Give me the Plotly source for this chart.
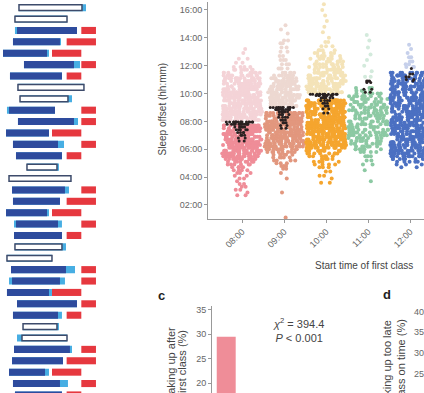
import numpy as np
import plotly.graph_objects as go

W, H = 424, 393
FONT = "Liberation Sans, Arial, sans-serif"

# ---------------- panel a (schematic sleep bars) ----------------
rows = list(range(1, 36))
day_type = (['we'] * 2 + ['wd'] * 5) * 5
sleep_on = [3.50, 2.95, 3.23, 2.68, 1.32, 4.18, 2.27, 3.36, 3.64, 2.14, 3.36, 1.73, 2.68, 3.09,
            4.59, 2.14, 2.55, 2.68, 1.73, 3.09, 2.82, 2.95, 1.86, 2.41, 2.55, 1.86, 3.23, 2.68,
            4.05, 3.91, 2.82, 2.55, 2.14, 2.68, 2.95]
sleep_off = [12.09, 10.05, 11.41, 9.09, 7.32, 11.00, 9.36, 12.36, 10.18, 8.41, 11.00, 7.59, 8.82, 9.36,
             8.68, 10.59, 9.77, 9.09, 7.32, 8.82, 9.36, 9.36, 8.00, 9.91, 9.09, 7.59, 11.41, 8.82,
             8.68, 10.05, 10.45, 9.50, 7.05, 9.09, 9.36]
light_start = [3.50, 2.95, 2.95, 2.68, 1.32, 4.18, 2.27, 3.36, 3.64, 1.86, 3.36, 1.73, 2.68, 3.09,
               4.59, 2.14, 2.55, 2.68, 1.73, 2.82, 2.82, 2.95, 1.86, 2.41, 2.14, 1.86, 3.23, 2.68,
               4.05, 3.23, 2.82, 2.55, 2.14, 2.68, 2.95]
light_end = [12.64, 10.05, 11.41, 9.23, 7.59, 11.82, 9.36, 12.36, 10.73, 8.41, 11.55, 7.59, 9.64, 9.36,
             8.95, 10.59, 10.32, 9.09, 7.59, 9.36, 9.36, 9.91, 8.00, 11.14, 9.77, 8.00, 11.41, 9.36,
             8.95, 10.05, 10.73, 9.50, 7.59, 10.18, 9.36]
class_rows = [3, 4, 5, 6, 7, 10, 11, 12, 13, 14, 17, 18, 19, 20, 21, 24, 25, 26, 27, 28, 31, 32, 33, 34, 35]
class_start = [12, 10, 8, 12, 10, 12, 12, 8, 12, 10, 12, 10, 8, 12, 10, 12, 12, 8, 12, 10, 12, 10, 8, 12, 10]
class_end = [14, 14, 12, 14, 12, 14, 14, 12, 14, 12, 14, 14, 12, 14, 12, 14, 14, 12, 14, 12, 14, 14, 12, 14, 12]

# ---------------- panel b (sleep offset by first class) ----------------
start_times = ['08:00', '09:00', '10:00', '11:00', '12:00']
y_ticks = [2, 4, 6, 8, 10, 12, 14, 16]
y_ticktext = ['02:00', '04:00', '06:00', '08:00', '10:00', '12:00', '14:00', '16:00']

before_0800_y = [2.7, 2.9, 3.1, 3.3, 3.5, 3.7, 3.9, 4.1, 4.3, 4.5, 4.7, 4.9, 5.1, 5.3, 5.5, 5.7, 5.9, 6.1,
                 6.3, 6.5, 6.7, 6.9, 7.1, 7.3, 7.5, 7.7]
before_0800_n = [2, 1, 2, 2, 2, 1, 2, 2, 3, 4, 5, 6, 8, 12, 20, 20, 20, 20, 20, 20, 20, 20, 20, 20, 20, 18]
after_0800_y = [8.1, 8.3, 8.5, 8.7, 8.9, 9.1, 9.3, 9.5, 9.7, 9.9, 10.1, 10.3, 10.5, 10.7, 10.9, 11.1, 11.3,
                11.5, 11.7, 11.9, 12.2, 12.5, 12.9, 13.2]
after_0800_n = [20, 20, 20, 20, 20, 20, 20, 20, 20, 20, 19, 18, 18, 17, 16, 14, 12, 10, 7, 4, 2, 2, 1, 1]
near_0800_y = [6.6, 6.8, 7.0, 7.2, 7.4, 7.6, 7.8, 7.95]
near_0800_n = [2, 2, 3, 4, 5, 7, 12, 16]

before_0900_y = [1.1, 2.9, 3.9, 4.3, 4.6, 4.8, 5.0, 5.2, 5.4, 5.6, 5.8, 6.0, 6.2, 6.4, 6.6, 6.8, 7.0, 7.2,
                 7.4, 7.6, 7.8, 8.0, 8.2, 8.4, 8.6]
before_0900_n = [1, 1, 1, 1, 2, 3, 3, 4, 5, 6, 8, 12, 20, 20, 20, 20, 20, 20, 20, 20, 20, 20, 20, 20, 18]
after_0900_y = [9.1, 9.3, 9.5, 9.7, 9.9, 10.1, 10.3, 10.5, 10.7, 10.9, 11.1, 11.3, 11.5, 11.8, 12.1, 12.4,
                12.7, 13.0, 13.3, 13.6, 13.8, 14.3, 14.6, 14.9]
after_0900_n = [16, 16, 16, 15, 15, 14, 14, 13, 12, 11, 9, 7, 6, 4, 3, 3, 2, 2, 2, 2, 2, 1, 1, 1]
near_0900_y = [7.5, 7.7, 7.9, 8.1, 8.3, 8.5, 8.7, 8.85, 9.0]
near_0900_n = [2, 2, 3, 3, 4, 5, 7, 10, 12]

before_1000_y = [3.6, 3.9, 4.1, 4.4, 4.7, 4.9, 5.1, 5.3, 5.5, 5.7, 5.9, 6.1, 6.3, 6.5, 6.7, 6.9, 7.1, 7.3,
                 7.5, 7.7, 7.9, 8.1, 8.3, 8.5, 8.7, 8.9, 9.1, 9.3, 9.5]
before_1000_n = [2, 1, 2, 2, 3, 4, 4, 5, 6, 8, 10, 14, 20, 20, 20, 20, 20, 20, 20, 20, 20, 20, 20, 20, 20,
                 20, 20, 20, 20]
after_1000_y = [10.1, 10.3, 10.5, 10.7, 10.9, 11.1, 11.3, 11.5, 11.7, 11.9, 12.1, 12.3, 12.5, 12.7, 12.9,
                13.1, 13.4, 13.7, 14.0, 14.4, 14.8, 15.2, 15.6, 16.0, 16.4, 16.8]
after_1000_n = [18, 18, 17, 16, 15, 14, 13, 12, 11, 10, 9, 8, 7, 6, 5, 4, 3, 2, 1, 1, 1, 1, 1, 1, 1, 1]
near_1000_y = [8.6, 8.9, 9.1, 9.3, 9.5, 9.7, 9.85, 9.95]
near_1000_n = [2, 2, 3, 3, 4, 7, 10, 14]

before_1100_y = [3.7, 4.5, 4.9, 5.2, 5.5, 5.8, 6.0, 6.2, 6.4, 6.6, 6.8, 7.0, 7.2, 7.4, 7.6, 7.8, 8.0, 8.2,
                 8.4, 8.6, 8.8, 9.0, 9.2, 9.4, 9.6, 9.8, 10.0, 10.2, 10.4]
before_1100_n = [1, 1, 2, 2, 3, 4, 6, 7, 8, 9, 9, 10, 10, 10, 10, 10, 10, 10, 10, 10, 10, 10, 9, 9, 8, 7,
                 6, 4, 3]
after_1100_y = [11.2, 11.6, 12.0, 12.4, 12.8, 13.3, 13.8, 14.2]
after_1100_n = [2, 1, 1, 1, 1, 1, 1, 1]
near_1100_y = [10.1, 10.3, 10.8, 10.9]
near_1100_n = [2, 2, 2, 3]

before_1200_y = [4.7, 4.9, 5.1, 5.3, 5.5, 5.7, 5.9, 6.1, 6.3, 6.5, 6.7, 6.9, 7.1, 7.3, 7.5, 7.7, 7.9, 8.1,
                 8.3, 8.5, 8.7, 8.9, 9.1, 9.3, 9.5, 9.7, 9.9, 10.1, 10.3, 10.5, 10.7, 10.9, 11.1, 11.3,
                 11.5]
before_1200_n = [2, 3, 5, 8, 15, 15, 15, 15, 15, 15, 15, 15, 15, 15, 15, 15, 15, 15, 15, 15, 15, 15, 15, 15,
                 15, 15, 15, 15, 15, 15, 15, 15, 15, 15, 11]
after_1200_y = [11.9, 12.1, 12.3, 12.6, 12.9, 13.2, 13.5]
after_1200_n = [3, 2, 2, 2, 1, 1, 1]
near_1200_y = [10.9, 11.0, 11.2, 11.4, 11.8]
near_1200_n = [1, 2, 2, 2, 1]

# ---------------- panels c and d ----------------
late_after_first_pct = [29.5]          # only the 08:00 bar reaches the visible part
late_after_first_cat = ['08:00']
c_ticks = [20, 25, 30, 35]
d_ticks = [25, 30, 35, 40]

# colours
BLUE_D, BLUE_L, RED_C, OUTL = '#2E4B9D', '#47AEE3', '#E6383F', '#3D4B6B'
solid_cols = ['#EF8D98', '#E2977E', '#F5A52E', '#8CC9A3', '#4B70C2']
pale_cols = ['#F4D3D7', '#EDD8D1', '#F4E3B8', '#D3EADC', '#C6D0EB']
DARK = '#2A2121'

fig = go.Figure()

# ---- panel a bars
fig.add_trace(go.Bar(orientation='h', y=rows, base=light_start,
                     x=[e - s for s, e in zip(light_start, light_end)], width=0.62,
                     marker=dict(color=BLUE_L, line_width=0), xaxis='x2', yaxis='y2',
                     hoverinfo='skip', showlegend=False))
wd = [i for i, d in enumerate(day_type) if d == 'wd']
we = [i for i, d in enumerate(day_type) if d == 'we']
fig.add_trace(go.Bar(orientation='h', y=[rows[i] for i in wd], base=[sleep_on[i] for i in wd],
                     x=[sleep_off[i] - sleep_on[i] for i in wd], width=0.62,
                     marker=dict(color=BLUE_D, line_width=0), xaxis='x2', yaxis='y2',
                     hoverinfo='skip', showlegend=False))
fig.add_trace(go.Bar(orientation='h', y=[rows[i] for i in we], base=[sleep_on[i] for i in we],
                     x=[sleep_off[i] - sleep_on[i] for i in we], width=0.5,
                     marker=dict(color='white', line=dict(color=OUTL, width=1.5)), xaxis='x2', yaxis='y2',
                     hoverinfo='skip', showlegend=False))
fig.add_trace(go.Bar(orientation='h', y=class_rows, base=class_start,
                     x=[e - s for s, e in zip(class_start, class_end)], width=0.62,
                     marker=dict(color=RED_C, line_width=0), xaxis='x2', yaxis='y2',
                     hoverinfo='skip', showlegend=False))

# ---- panel b swarms
groups = [
    (before_0800_y, before_0800_n, after_0800_y, after_0800_n, near_0800_y, near_0800_n, 1.0, 0.8),
    (before_0900_y, before_0900_n, after_0900_y, after_0900_n, near_0900_y, near_0900_n, 0.8, 0.7),
    (before_1000_y, before_1000_n, after_1000_y, after_1000_n, near_1000_y, near_1000_n, 1.0, 0.8),
    (before_1100_y, before_1100_n, after_1100_y, after_1100_n, near_1100_y, near_1100_n, 0.25, 0.25),
    (before_1200_y, before_1200_n, after_1200_y, after_1200_n, near_1200_y, near_1200_n, 0.3, 0.3),
]


def swarm(pos, yv, n, color, jitter, size=4.0):
    vals = np.repeat(np.array(yv, dtype=float), n)
    return go.Box(y=vals, x0=pos, boxpoints='all', jitter=jitter, pointpos=0, width=0.95,
                  fillcolor='rgba(0,0,0,0)', line=dict(width=0, color='rgba(0,0,0,0)'),
                  marker=dict(color=color, size=size, line=dict(width=0)),
                  hoverinfo='skip', showlegend=False, xaxis='x', yaxis='y')


for i, (by, bn, ay, an, ny, nn, aj, nj) in enumerate(groups):
    fig.add_trace(swarm(i, by, bn, solid_cols[i], 1.0))
    fig.add_trace(swarm(i, ay, an, pale_cols[i], aj))
    fig.add_trace(swarm(i, ny, nn, DARK, nj, 3.0))

# ---- panel c
fig.add_trace(go.Bar(x=late_after_first_cat, y=late_after_first_pct, width=0.6,
                     marker=dict(color='#EF8D98', line_width=0), xaxis='x3', yaxis='y3',
                     hoverinfo='skip', showlegend=False))
# ---- panel d (axis only visible)
fig.add_trace(go.Scatter(x=[None], y=[None], xaxis='x4', yaxis='y4', showlegend=False))

tick_font = dict(family=FONT, size=9, color='#666')
fig.update_layout(
    width=W, height=H, margin=dict(l=0, r=0, t=0, b=0),
    paper_bgcolor='white', plot_bgcolor='white', barmode='overlay', boxmode='overlay',
    font=dict(family=FONT),
    xaxis=dict(domain=[208 / W, 1.0], range=[-0.81, 4.33], tickvals=[0, 1, 2, 3, 4],
               ticktext=start_times, tickangle=-45, ticks='outside', ticklen=3, tickcolor='#999',
               showline=True, linecolor='#999', linewidth=1, showgrid=False, zeroline=False,
               tickfont=tick_font, anchor='y'),
    yaxis=dict(domain=[1 - 218 / H, 1.0], range=[1.0, 16.57], tickvals=y_ticks, ticktext=y_ticktext,
               ticks='outside', ticklen=3, tickcolor='#999', showline=True, linecolor='#999',
               linewidth=1, showgrid=False, zeroline=False, tickfont=tick_font, anchor='x'),
    xaxis2=dict(domain=[0, 100 / W], range=[0.909, 14.55], visible=False, anchor='y2'),
    yaxis2=dict(domain=[0, 1], range=[34.83, 0.502], visible=False, anchor='x2'),
    xaxis3=dict(domain=[212 / W, 370 / W], range=[-0.45, 4.55], type='category',
                categoryarray=start_times, visible=False, anchor='y3'),
    yaxis3=dict(domain=[0, 87 / H], range=[18, 35.7], tickvals=c_ticks, ticks='outside', ticklen=3,
                tickcolor='#999', showline=True, linecolor='#999', linewidth=1, showgrid=False,
                zeroline=False, tickfont=tick_font, anchor='x3'),
    xaxis4=dict(domain=[0.95, 1.0], visible=False, anchor='y4'),
    yaxis4=dict(domain=[0, 85 / H], range=[20.48, 40.7], tickvals=d_ticks, ticks='',
                showline=False, showgrid=False, zeroline=False, tickfont=tick_font,
                anchor='free', position=1.0, side='left'),
)

ann = []


def A(text, px, py, size=10, color='#444', angle=0, xa='center', ya='middle', bold=False):
    ann.append(dict(text=('<b>%s</b>' % text) if bold else text, x=px / W, y=1 - py / H,
                    xref='paper', yref='paper', showarrow=False, textangle=angle,
                    xanchor=xa, yanchor=ya, font=dict(family=FONT, size=size, color=color)))


A('Sleep offset (hh:mm)', 162, 108, angle=-90)
A('Start time of first class', 313, 265, xa='left')
A('c', 161, 295, size=13, color='#222', bold=True)
A('d', 387, 294, size=13, color='#222', bold=True)
A('<i>χ</i><sup>2</sup> = 394.4<br><i>P</i> &lt; 0.001', 271, 330, size=11, color='#444', xa='left')
A('Waking up after', 171, 325, size=11, angle=-90, ya='top')
A('the first class (%)', 182, 328, size=11, angle=-90, ya='top')
A('Waking up too late', 387, 318, size=11, angle=-90, ya='top')
A('for class on time (%)', 401, 317, size=11, angle=-90, ya='top')
fig.update_layout(annotations=ann)

fig.write_html("out.html", config={'displayModeBar': False},
               post_script="document.body.style.margin='0';")
